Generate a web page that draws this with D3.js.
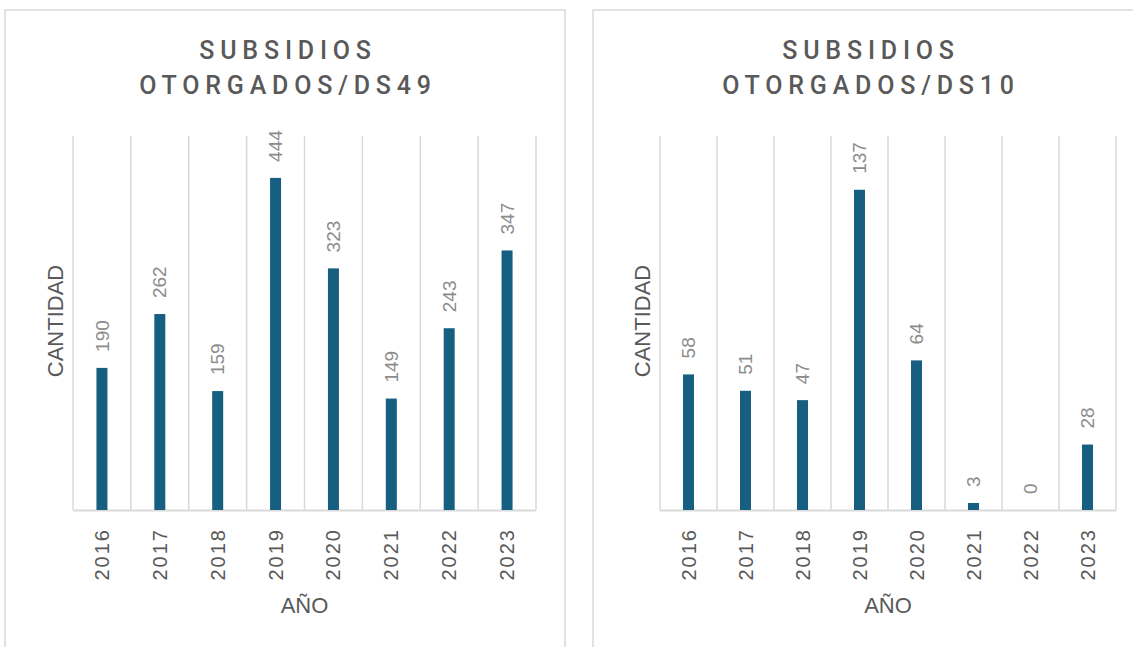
<!DOCTYPE html>
<html>
<head>
<meta charset="utf-8">
<script src="https://cdn.jsdelivr.net/npm/d3@7"></script>
<style>
  body { margin: 0; background: #fff; }
  svg { display: block; }
</style>
</head>
<body>
<div id="chart"></div>
<script>
// Datos
const years = ['2016', '2017', '2018', '2019', '2020', '2021', '2022', '2023'];
const ds49Values = [190, 262, 159, 444, 323, 149, 243, 347];
const ds10Values = [58, 51, 47, 137, 64, 3, 0, 28];
const titles = [['SUBSIDIOS', 'OTORGADOS/DS49'], ['SUBSIDIOS', 'OTORGADOS/DS10']];
const yMax = [500, 160];

const width = 1133, height = 647;
const barColor = '#165f80', gridColor = '#d9d9d9', textColor = '#595959', labelColor = '#8c8c8c';
const font = '"Liberation Sans", Arial, sans-serif';

const svg = d3.select('#chart')
    .append('svg')
    .attr('width', width)
    .attr('height', height);

// Paneles
const panels = [
    {x0: 5, x1: 565, plot: [73, 536], values: ds49Values, title: titles[0], max: yMax[0]},
    {x0: 593, x1: 1143, plot: [660, 1116], values: ds10Values, title: titles[1], max: yMax[1]}
];

panels.forEach(function(p) {
    const g = svg.append('g');

    // Borde del panel
    g.append('rect')
        .attr('x', p.x0)
        .attr('y', 10)
        .attr('width', p.x1 - p.x0)
        .attr('height', 660)
        .attr('fill', 'none')
        .attr('stroke', gridColor)
        .attr('stroke-width', 1.5);

    const cx = (p.x0 + p.x1) / 2;

    // Titulo
    g.selectAll('.title')
        .data(p.title)
        .enter()
        .append('text')
        .attr('x', cx + 3)
        .attr('y', (d, i) => 59 + i * 35)
        .attr('text-anchor', 'middle')
        .attr('fill', textColor)
        .style('font-family', 'Roboto, sans-serif')
        .style('font-weight', 500)
        .style('font-size', '25px')
        .style('letter-spacing', '5.8px')
        .text(d => d);

    const x = d3.scaleBand()
        .domain(years)
        .range(p.plot);

    const y = d3.scaleLinear()
        .domain([0, p.max])
        .range([510, 136]);

    // Lineas verticales
    const edges = years.map(d => x(d)).concat([p.plot[1]]);
    g.selectAll('.grid')
        .data(edges)
        .enter()
        .append('line')
        .attr('x1', d => d)
        .attr('x2', d => d)
        .attr('y1', y(p.max))
        .attr('y2', y(0))
        .attr('stroke', gridColor)
        .attr('stroke-width', 1.5);

    // Eje X
    g.append('line')
        .attr('x1', p.plot[0])
        .attr('x2', p.plot[1])
        .attr('y1', y(0) + 0.5)
        .attr('y2', y(0) + 0.5)
        .attr('stroke', gridColor)
        .attr('stroke-width', 2);

    const bw = 11;

    // Barras
    g.selectAll('.bar')
        .data(p.values)
        .enter()
        .append('rect')
        .attr('x', (d, i) => x(years[i]) + x.bandwidth() / 2 - bw / 2)
        .attr('y', d => y(d))
        .attr('width', bw)
        .attr('height', d => y(0) - y(d))
        .attr('fill', barColor);

    // Etiquetas de valores
    g.selectAll('.val')
        .data(p.values)
        .enter()
        .append('text')
        .attr('transform', (d, i) => 'translate(' + (x(years[i]) + x.bandwidth() / 2) + ',' + (y(d) - 16) + ') rotate(-90)')
        .attr('dy', '0.35em')
        .attr('text-anchor', 'start')
        .attr('fill', labelColor)
        .style('font-family', font)
        .style('font-size', '19px')
        .text(d => d);

    // Etiquetas de años
    g.selectAll('.year')
        .data(years)
        .enter()
        .append('text')
        .attr('transform', d => 'translate(' + (x(d) + x.bandwidth() / 2) + ',' + 528 + ') rotate(-90)')
        .attr('dy', '0.35em')
        .attr('text-anchor', 'end')
        .attr('fill', textColor)
        .style('font-family', font)
        .style('font-size', '20px')
        .style('letter-spacing', '2px')
        .text(d => d);

    // Titulos de ejes
    g.append('text')
        .attr('x', (p.plot[0] + p.plot[1]) / 2)
        .attr('y', 613)
        .attr('text-anchor', 'middle')
        .attr('fill', textColor)
        .style('font-family', font)
        .style('font-size', '22px')
        .text('AÑO');

    g.append('text')
        .attr('transform', 'translate(' + (p.plot[0] - 10) + ',321) rotate(-90)')
        .attr('text-anchor', 'middle')
        .attr('fill', textColor)
        .style('font-family', font)
        .style('font-size', '22px')
        .text('CANTIDAD');
});
</script>
</body>
</html>
